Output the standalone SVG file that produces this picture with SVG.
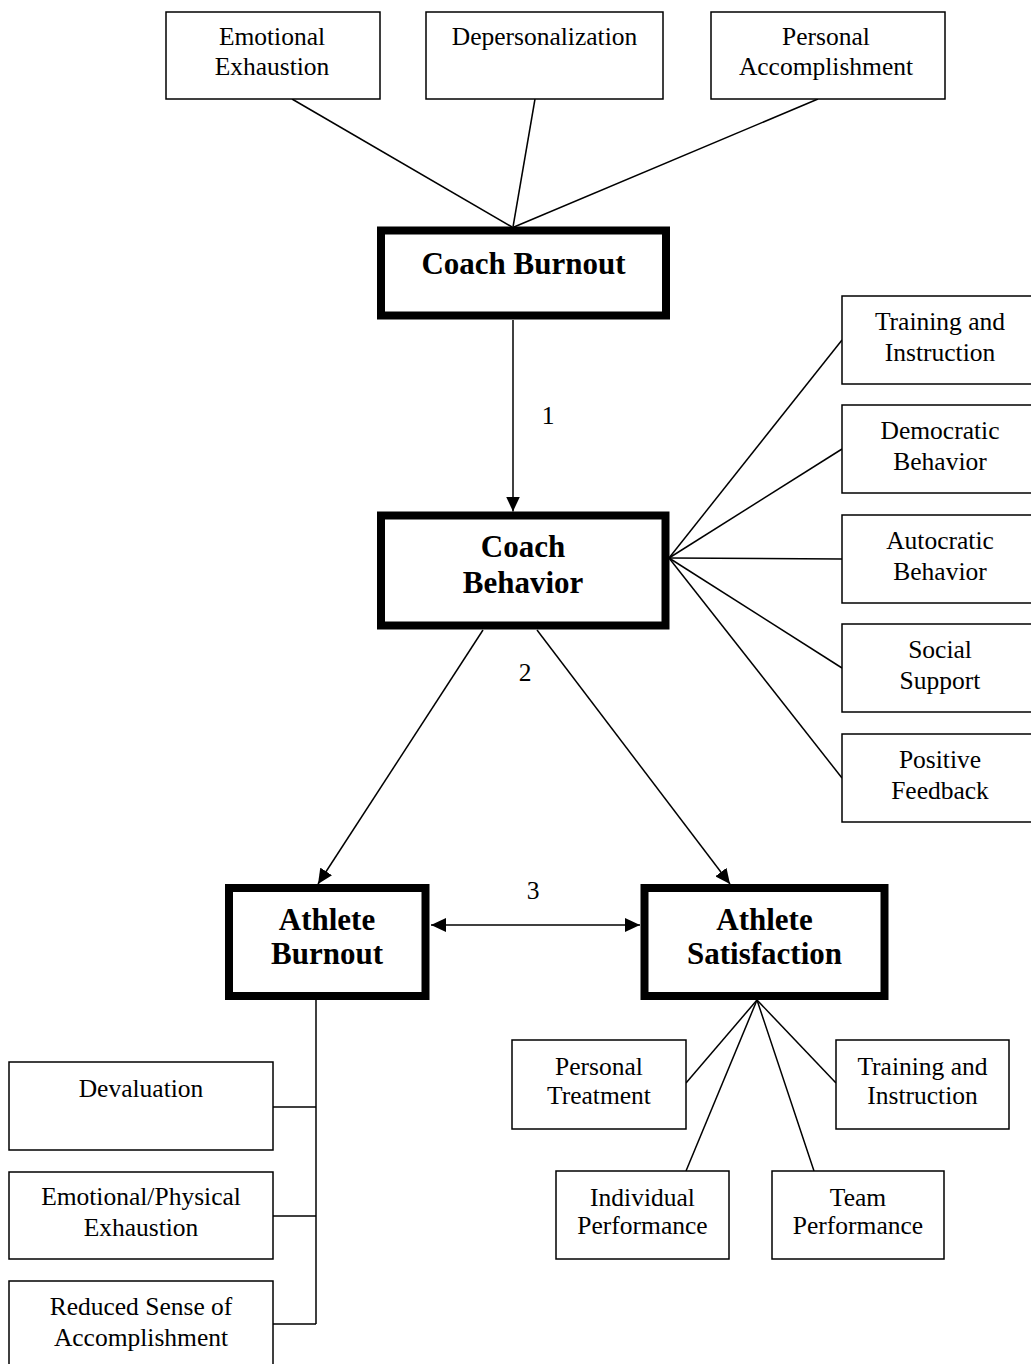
<svg xmlns="http://www.w3.org/2000/svg" width="1031" height="1364" viewBox="0 0 1031 1364">
<defs>
<style>
.box{fill:#fff;stroke:#000;stroke-width:1.5}
.bold{fill:#fff;stroke:#000;stroke-width:8}
.t{font-family:"Liberation Serif","Times New Roman",serif;font-size:25.5px;text-anchor:middle;fill:#000}
.tb{font-family:"Liberation Serif","Times New Roman",serif;font-size:31px;font-weight:bold;text-anchor:middle;fill:#000}
.c{stroke:#000;stroke-width:1.5;fill:none}
</style>
<marker id="ah" markerUnits="userSpaceOnUse" markerWidth="15" markerHeight="14" refX="15" refY="7" orient="auto-start-reverse">
<path d="M0,0 L15,7 L0,14 z" fill="#000"/>
</marker>
</defs>
<rect width="1031" height="1364" fill="#fff"/>
<g id="connectors">
<line class="c" x1="292" y1="99" x2="512" y2="227"/>
<line class="c" x1="535" y1="99" x2="513" y2="227"/>
<line class="c" x1="818" y1="99" x2="514" y2="227"/>
<line class="c" x1="513" y1="320" x2="513" y2="511.5" marker-end="url(#ah)"/>
<line class="c" x1="669" y1="558" x2="842" y2="340"/>
<line class="c" x1="669" y1="558" x2="842" y2="449"/>
<line class="c" x1="669" y1="558" x2="842" y2="559"/>
<line class="c" x1="669" y1="558" x2="842" y2="668"/>
<line class="c" x1="669" y1="558" x2="842" y2="778"/>
<line class="c" x1="483" y1="630" x2="318" y2="884" marker-end="url(#ah)"/>
<line class="c" x1="537" y1="630" x2="730" y2="884" marker-end="url(#ah)"/>
<line class="c" x1="431" y1="925" x2="640" y2="925" marker-start="url(#ah)" marker-end="url(#ah)"/>
<line class="c" x1="316" y1="1000" x2="316" y2="1324"/>
<line class="c" x1="273" y1="1107" x2="316" y2="1107"/>
<line class="c" x1="273" y1="1216" x2="316" y2="1216"/>
<line class="c" x1="273" y1="1324" x2="316" y2="1324"/>
<line class="c" x1="757" y1="1000" x2="686" y2="1083"/>
<line class="c" x1="757" y1="1000" x2="686" y2="1171"/>
<line class="c" x1="757" y1="1000" x2="814" y2="1171"/>
<line class="c" x1="757" y1="1000" x2="836" y2="1083"/>
<text class="t" x="548" y="424">1</text>
<text class="t" x="525" y="681">2</text>
<text class="t" x="533" y="899">3</text>
</g>
<g id="emotional-exhaustion">
<rect class="box" x="166" y="12" width="214" height="87"/>
<text class="t" x="272" y="45">Emotional</text>
<text class="t" x="272" y="75">Exhaustion</text>
</g>
<g id="depersonalization">
<rect class="box" x="426" y="12" width="237" height="87"/>
<text class="t" x="544.5" y="45">Depersonalization</text>
</g>
<g id="personal-accomplishment">
<rect class="box" x="711" y="12" width="234" height="87"/>
<text class="t" x="826" y="45">Personal</text>
<text class="t" x="826" y="75">Accomplishment</text>
</g>
<g id="coach-burnout">
<rect class="bold" x="381" y="230.5" width="285" height="85"/>
<text class="tb" x="523.5" y="274">Coach Burnout</text>
</g>
<g id="coach-behavior">
<rect class="bold" x="381" y="515.5" width="284.5" height="110"/>
<text class="tb" x="523" y="557">Coach</text>
<text class="tb" x="523" y="593">Behavior</text>
</g>
<g id="cb-training">
<rect class="box" x="842" y="296" width="196" height="88"/>
<text class="t" x="940" y="330">Training and</text>
<text class="t" x="940" y="361">Instruction</text>
</g>
<g id="cb-democratic">
<rect class="box" x="842" y="405" width="196" height="88"/>
<text class="t" x="940" y="439">Democratic</text>
<text class="t" x="940" y="470">Behavior</text>
</g>
<g id="cb-autocratic">
<rect class="box" x="842" y="515" width="196" height="88"/>
<text class="t" x="940" y="549">Autocratic</text>
<text class="t" x="940" y="580">Behavior</text>
</g>
<g id="cb-social">
<rect class="box" x="842" y="624" width="196" height="88"/>
<text class="t" x="940" y="658">Social</text>
<text class="t" x="940" y="689">Support</text>
</g>
<g id="cb-positive">
<rect class="box" x="842" y="734" width="196" height="88"/>
<text class="t" x="940" y="768">Positive</text>
<text class="t" x="940" y="799">Feedback</text>
</g>
<g id="athlete-burnout">
<rect class="bold" x="229" y="888" width="196.5" height="108"/>
<text class="tb" x="327" y="930">Athlete</text>
<text class="tb" x="327" y="964">Burnout</text>
</g>
<g id="athlete-satisfaction">
<rect class="bold" x="644.5" y="888" width="240" height="108"/>
<text class="tb" x="764.5" y="930">Athlete</text>
<text class="tb" x="764.5" y="964">Satisfaction</text>
</g>
<g id="ab-devaluation">
<rect class="box" x="9" y="1062" width="264" height="88"/>
<text class="t" x="141" y="1097">Devaluation</text>
</g>
<g id="ab-exhaustion">
<rect class="box" x="9" y="1172" width="264" height="87"/>
<text class="t" x="141" y="1205">Emotional/Physical</text>
<text class="t" x="141" y="1236">Exhaustion</text>
</g>
<g id="ab-reduced">
<rect class="box" x="9" y="1281" width="264" height="92"/>
<text class="t" x="141" y="1315">Reduced Sense of</text>
<text class="t" x="141" y="1346">Accomplishment</text>
</g>
<g id="as-personal">
<rect class="box" x="512" y="1040" width="174" height="89"/>
<text class="t" x="599" y="1075">Personal</text>
<text class="t" x="599" y="1104">Treatment</text>
</g>
<g id="as-training">
<rect class="box" x="836" y="1040" width="173" height="89"/>
<text class="t" x="922.5" y="1075">Training and</text>
<text class="t" x="922.5" y="1104">Instruction</text>
</g>
<g id="as-individual">
<rect class="box" x="556" y="1171" width="173" height="88"/>
<text class="t" x="642.5" y="1206">Individual</text>
<text class="t" x="642.5" y="1234">Performance</text>
</g>
<g id="as-team">
<rect class="box" x="772" y="1171" width="172" height="88"/>
<text class="t" x="858" y="1206">Team</text>
<text class="t" x="858" y="1234">Performance</text>
</g>
</svg>
